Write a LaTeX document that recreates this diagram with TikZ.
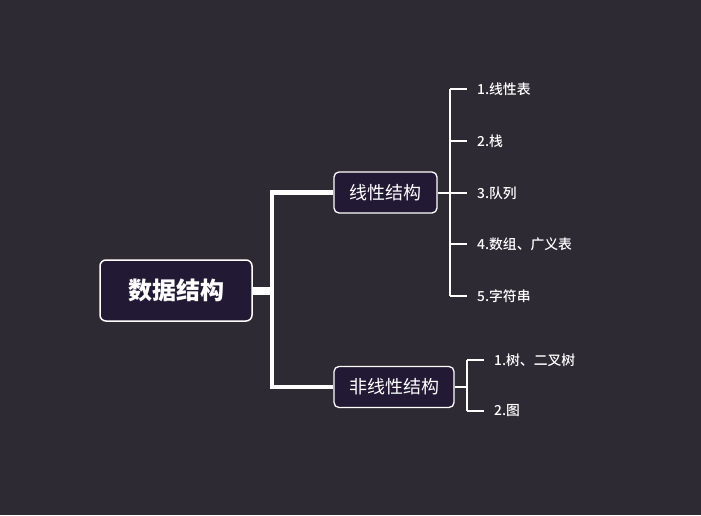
\documentclass[tikz,border=0pt]{standalone}
\usepackage{fontspec}
\setmainfont{Noto Sans CJK SC}
\newfontfamily\leaffont{Noto Sans CJK SC}[UprightFont={* Medium}]
\definecolor{canvas}{RGB}{46,42,51}
\definecolor{box_fill}{RGB}{34,26,53}

\begin{document}
\begin{tikzpicture}[x=1pt,y=-1pt,
    rootbox/.style={draw=white,line width=1.5pt,fill=box_fill,rounded corners=6pt,
      minimum width=152pt,minimum height=61pt,text=white,
      font=\fontsize{24}{28}\selectfont\bfseries},
    topicbox/.style={draw=white,line width=1.3pt,fill=box_fill,rounded corners=5pt,
      minimum height=41pt,text=white,font=\fontsize{18}{21}\selectfont},
    leaf/.style={anchor=west,text=white,inner sep=0pt,font=\leaffont\fontsize{13.8}{16}\selectfont},
    trunk/.style={draw=white,line width=4.5pt,line join=miter},
    twig/.style={draw=white,line width=2pt}
  ]
  \fill[canvas] (0,0) rectangle (701,515);

  % nodes
  \node[rootbox] (root) at (176,290.5) {数据结构};
  \node[topicbox,minimum width=103pt] (linear) at (385.5,192.5) {线性结构};
  \node[topicbox,minimum width=120pt] (nonlinear) at (394,387) {非线性结构};

  \node[leaf] (l1) at (477,89) {1.线性表};
  \node[leaf] (l2) at (477,141) {2.栈};
  \node[leaf] (l3) at (477,193) {3.队列};
  \node[leaf] (l4) at (477,244) {4.数组、广义表};
  \node[leaf] (l5) at (477,296) {5.字符串};

  \node[leaf] (n1) at (494,360) {1.树、二叉树};
  \node[leaf] (n2) at (494,411) {2.图};

  \coordinate (spine) at (272,290.5);
  \coordinate (lfork) at (450,192.5);
  \coordinate (nfork) at (467,387);

  % root to topics
  \draw[white,line width=8pt] (root.east) -- ([xshift=2pt]spine);
  \draw[trunk] (linear.west) -| (spine) |- (nonlinear.west);

  % linear leaves
  \draw[twig] (linear.east) -- (lfork);
  \draw[twig] (l1.west -| lfork) -- (l5.west -| lfork);
  \foreach \i in {1,...,5}
    \draw[twig] (l\i.west -| lfork) -- ([xshift=-10pt]l\i.west);

  % nonlinear leaves
  \draw[twig] (nonlinear.east) -- (nfork);
  \draw[twig] (n1.west -| nfork) -- (n2.west -| nfork);
  \foreach \i in {1,2}
    \draw[twig] (n\i.west -| nfork) -- ([xshift=-10pt]n\i.west);
\end{tikzpicture}
\end{document}
